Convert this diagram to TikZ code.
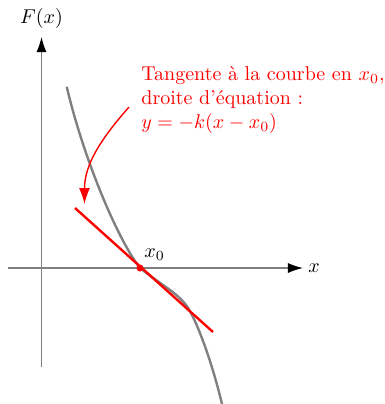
\documentclass[tikz,border=0pt]{standalone}
\usetikzlibrary{arrows.meta}
\begin{document}
\begin{tikzpicture}[x=0.5pt,y=-0.5pt,
  axis/.style={draw=gray,line width=0.6pt,-{Latex[length=7.5pt,width=5pt,black]}},
  curvestyle/.style={draw=gray,line width=1.2pt},
  tangentstyle/.style={draw=red,line width=1.2pt},
  callout/.style={draw=red,line width=0.7pt,-{Latex[length=8pt,width=5.5pt]}},
  lbl/.style={inner sep=0pt}]
\useasboundingbox (0,0) rectangle (385,404);
% axes
\coordinate (xs) at (8,268);
\coordinate (xe) at (303,268);
\coordinate (ys) at (41.5,367);
\coordinate (ye) at (41.5,37);
\draw[axis] (xs) -- (xe);
\draw[axis] (ys) -- (ye);
\node[lbl,anchor=west] (xl) at (308,268) {$x$};
\node[lbl,anchor=south] (yl) at (41.5,29) {$F(x)$};
% curve
\draw[curvestyle] (66.7,86.7) .. controls (84,160) and (118,240) .. (140,268)
  .. controls (160,284) and (176,292) .. (186,305)
  .. controls (196,318) and (212,362) .. (222,404);
% tangent
\coordinate (t1) at (75,208);
\coordinate (t2) at (213,332);
\draw[tangentstyle] (t1) -- (t2);
\fill[red] (140,268) circle (3.5);
\node[lbl,anchor=south west] (x0) at (144,261) {$x_0$};
% text
\node[lbl,anchor=base west,align=left,text=red] (txt) at (141,128) {Tangente à la courbe en $x_0$,\\droite d’équation :\\$y=-k(x-x_0)$};
\coordinate (as) at (129,107);
\coordinate (ae) at (84.5,204);
\draw[callout,red] (as) .. controls (100,140) and (84.5,165) .. (ae);
\end{tikzpicture}
\end{document}
